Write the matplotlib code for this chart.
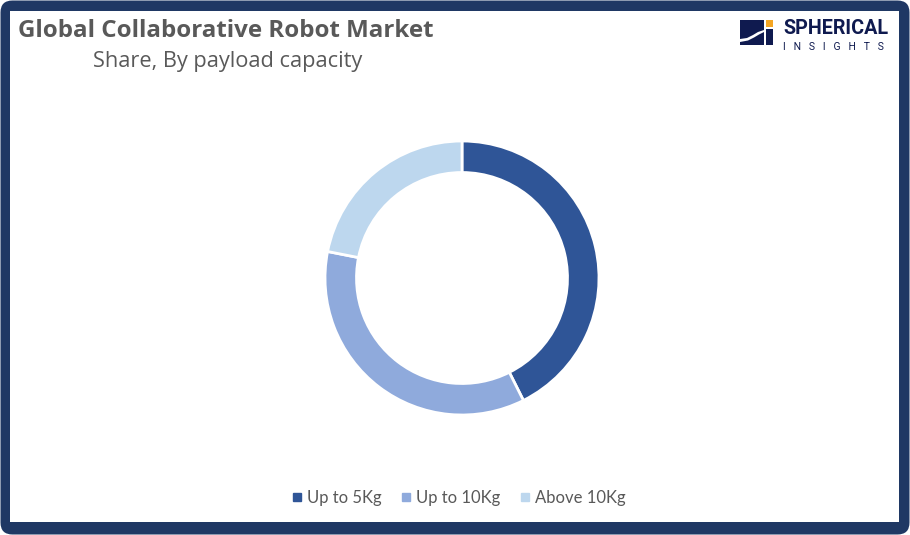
import matplotlib
matplotlib.use("Agg")
import matplotlib.pyplot as plt
from matplotlib.patches import FancyBboxPatch, Rectangle, Polygon
from matplotlib.lines import Line2D

categories = ["Up to 5Kg", "Up to 10Kg", "Above 10Kg"]
shares = [42.6, 35.5, 21.9]
colors = ["#2F5597", "#8FAADC", "#BDD7EE"]
title = "Global Collaborative Robot Market"
subtitle = "Share, By payload capacity"

W, H = 910, 535
fig = plt.figure(figsize=(W / 100, H / 100), dpi=100)
fig.patch.set_facecolor("white")

def fx(x):
    return x / W

def fy(y):
    return 1 - y / H

# frame (background axes in pixel units)
bg = fig.add_axes([0, 0, 1, 1], zorder=-10)
bg.set_xlim(0, W)
bg.set_ylim(H, 0)
bg.axis("off")
bg.add_patch(FancyBboxPatch((0.5, 0.5), W - 1, H - 1,
                            boxstyle="round,pad=0,rounding_size=12",
                            facecolor="#1F3864", edgecolor="none"))
bg.add_patch(Rectangle((10, 11), 889, 511, facecolor="white", edgecolor="none"))

plt.rcParams['font.family'] = ['Open Sans', 'DejaVu Sans']

fig.text(fx(18), fy(37), title, fontsize=17.4, fontweight="bold",
         color="#595959", ha="left", va="baseline")
fig.text(fx(93), fy(67), subtitle, fontsize=15.7, color="#595959",
         ha="left", va="baseline")

# donut
r_px = 137
ax = fig.add_axes([fx(462 - r_px), fy(278 + r_px), 2 * r_px / W, 2 * r_px / H])
ax.pie(shares, colors=colors, startangle=90, counterclock=False,
       radius=1.0, wedgeprops=dict(width=0.23, edgecolor="white", linewidth=2))
ax.set_xlim(-1, 1)
ax.set_ylim(-1, 1)
ax.set_aspect("equal")
ax.axis("off")

# legend
handles = [Line2D([0], [0], marker="s", linestyle="none", markersize=6,
                  markerfacecolor=c, markeredgecolor=c) for c in colors]
leg = fig.legend(handles, categories, loc="center", bbox_to_anchor=(fx(459), fy(498)),
                 ncol=3, frameon=False, handlelength=0.6,
                 handletextpad=0.3, columnspacing=1.17, labelcolor="#595959",
                 prop={'family': ['Lato', 'DejaVu Sans'], 'size': 12})

# logo
logo = fig.add_axes([fx(738), fy(54), fx(892) - fx(738), fy(16) - fy(54)])
logo.set_xlim(738, 892)
logo.set_ylim(54, 16)
logo.axis("off")
navy = "#0F1A4F"
logo.add_patch(Rectangle((740, 20), 24, 25, facecolor=navy, edgecolor="none"))
logo.add_patch(Rectangle((766, 20), 7, 7, facecolor="#F5A623", edgecolor="none"))
logo.add_patch(Rectangle((766, 29), 7, 16, facecolor=navy, edgecolor="none"))
logo.add_patch(Polygon([(740, 39), (747, 38), (753, 35), (758, 32), (764, 30),
                        (766, 30), (766, 32), (764, 32), (759, 34.5), (754, 37.5),
                        (748, 40.5), (740, 42)],
                       closed=True, facecolor="white", edgecolor="none"))
logo.text(783, 29, "SPHERICAL", fontsize=14.2, fontweight="bold", color=navy,
          ha="left", va="center", family=["Roboto", "DejaVu Sans"])
logo.text(783, 47.5, "I   N   S   I   G   H   T   S", fontsize=7.5, color=navy,
          ha="left", va="center", family=["Roboto", "DejaVu Sans"])

fig.savefig("out.png", dpi=100, facecolor="white")
